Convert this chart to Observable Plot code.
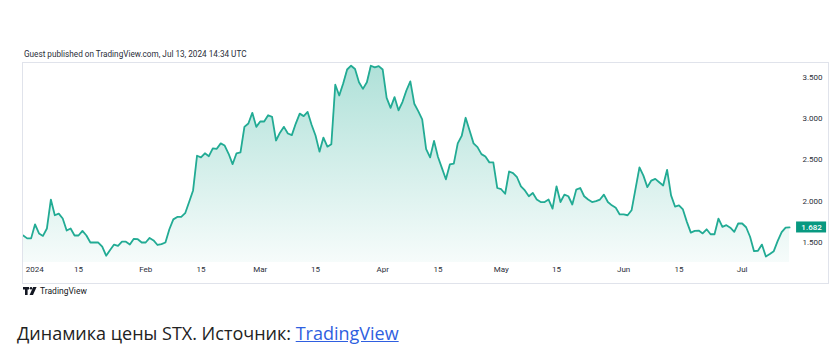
<!DOCTYPE html>
<html>
<head>
<meta charset="utf-8">
<script src="https://cdn.jsdelivr.net/npm/d3@7"></script>
<script src="https://cdn.jsdelivr.net/npm/@observablehq/plot@0.6"></script>
<style>
  html, body { margin:0; padding:0; background:#fff; }
  body { width:831px; height:354px; position:relative; overflow:hidden; }
  #hdr { position:absolute; left:24px; top:49px; font:8.2px Roboto, "Liberation Sans", sans-serif; color:#2a2e39; white-space:nowrap; }
  #chart { position:absolute; left:22px; top:62px; }
  #box { position:absolute; left:22px; top:62px; width:807px; height:222px; border:1px solid #e0e3eb; box-sizing:border-box; pointer-events:none; }
  #logo { position:absolute; left:23px; top:286px; height:10px; display:flex; align-items:center; font:8.5px Roboto, "Liberation Sans", sans-serif; color:#131722; white-space:nowrap; }
  #logo svg { margin-right:3px; }
  #cap { position:absolute; left:17px; top:321px; font:18px "Open Sans", sans-serif; color:#222; white-space:nowrap; }
  #cap a { color:#2f5fe0; text-decoration:underline; }
</style>
</head>
<body>
<div id="hdr">Guest published on TradingView.com, Jul 13, 2024 14:34 UTC</div>
<div id="chart"></div>
<div id="box"></div>
<div id="logo"><svg width="14" height="8" viewBox="0 0 14 8"><path d="M0 0H6V2.6H4.6V8H2V2.6H0Z" fill="#131722"/><circle cx="8" cy="1.3" r="1.3" fill="#131722"/><path d="M10.2 0H13.6L10 8H6.6Z" fill="#131722"/></svg>TradingView</div>
<div id="cap">Динамика цены STX. Источник: <a href="#">TradingView</a></div>
<script>
// STX daily close, 2024-01-01 .. 2024-07-13
const startDay = "2024-01-01";
const prices = [
  1.585,1.55,1.55,1.72,1.61,1.58,1.67,2.02,1.83,1.85,
  1.79,1.645,1.67,1.585,1.585,1.64,1.585,1.50,1.50,1.50,
  1.45,1.34,1.41,1.475,1.46,1.51,1.51,1.475,1.545,1.54,
  1.50,1.50,1.556,1.525,1.47,1.48,1.50,1.66,1.78,1.81,
  1.81,1.855,1.99,2.13,2.55,2.53,2.58,2.545,2.64,2.634,
  2.70,2.674,2.574,2.448,2.58,2.59,2.90,2.94,3.07,2.90,
  2.965,2.965,3.04,3.02,2.735,2.83,2.90,2.82,2.80,2.94,
  3.06,3.03,3.08,2.925,2.795,2.60,2.77,2.66,2.69,3.41,
  3.28,3.425,3.594,3.64,3.60,3.44,3.36,3.44,3.64,3.62,
  3.635,3.594,3.25,3.13,3.26,3.10,3.20,3.34,3.45,3.18,
  3.09,2.99,2.63,2.53,2.73,2.535,2.40,2.265,2.445,2.455,
  2.70,2.79,3.01,2.855,2.70,2.655,2.57,2.54,2.47,2.47,
  2.16,2.145,2.09,2.36,2.34,2.29,2.18,2.13,2.06,2.10,
  2.02,1.99,1.99,2.02,1.91,2.18,1.99,2.08,2.06,1.96,
  2.14,2.16,2.06,2.02,1.99,2.00,2.02,2.08,1.99,1.95,
  1.92,1.84,1.84,1.83,1.89,2.15,2.41,2.31,2.17,2.25,
  2.27,2.23,2.19,2.38,2.07,1.935,1.95,1.90,1.75,1.62,
  1.64,1.645,1.61,1.66,1.60,1.60,1.79,1.69,1.71,1.68,
  1.63,1.73,1.73,1.685,1.57,1.395,1.40,1.475,1.33,1.36,
  1.395,1.52,1.625,1.68,1.682
];
const yTicks = [1.5, 2.0, 2.5, 3.0, 3.5];
const xTickDates = ["2024-01-01","2024-01-15","2024-02-01","2024-02-15","2024-03-01","2024-03-15","2024-04-01","2024-04-15","2024-05-01","2024-05-15","2024-06-01","2024-06-15","2024-07-01"];
const xTickLabels = ["2024","15","Feb","15","Mar","15","Apr","15","May","15","Jun","15","Jul"];

const DAY = 864e5;
const t0 = new Date(startDay + "T00:00:00Z").getTime();
const data = prices.map((v, i) => ({date: new Date(t0 + i * DAY), v}));
const last = data[data.length - 1];
const ticks = xTickDates.map((d, i) => ({date: new Date(d + "T00:00:00Z"), label: xTickLabels[i]}));
const fmt = d3.format(".3f");

const xDomain = [new Date(t0 - 0.18 * DAY), new Date(t0 + 195.5 * DAY)];
const yDomain = [1.258, 3.679];
const lineColor = "#22ab94";

const gradientDefs = () => {
  const ns = "http://www.w3.org/2000/svg";
  const defs = document.createElementNS(ns, "defs");
  defs.innerHTML = `<linearGradient id="areaGrad" x1="0" y1="0" x2="0" y2="1">
    <stop offset="0" stop-color="${lineColor}" stop-opacity="0.36"/>
    <stop offset="1" stop-color="${lineColor}" stop-opacity="0.04"/>
  </linearGradient>`;
  return defs;
};

const chart = Plot.plot({
  width: 807,
  height: 222,
  marginLeft: 0,
  marginRight: 34,
  marginTop: 0,
  marginBottom: 22,
  style: {fontFamily: "Roboto, 'Liberation Sans', sans-serif", fontSize: "8px", color: "#2a2e39", background: "transparent"},
  x: {type: "utc", domain: xDomain, axis: null},
  y: {domain: yDomain, axis: null},
  marks: [
    gradientDefs,
    Plot.areaY(data, {x: "date", y1: yDomain[0], y2: "v", fill: "url(#areaGrad)", curve: "linear"}),
    Plot.lineY(data, {x: "date", y: "v", stroke: lineColor, strokeWidth: 1.8, curve: "linear"}),
    Plot.axisY(yTicks, {anchor: "right", tickSize: 0, tickPadding: 7, tickFormat: fmt, label: null, fill: "#2a2e39"}),
    Plot.text(ticks.slice(0, 1), {x: "date", text: "label", frameAnchor: "bottom", dy: 9, dx: 2.5, textAnchor: "start", fill: "#2a2e39"}),
    Plot.text(ticks.slice(1), {x: "date", text: "label", frameAnchor: "bottom", dy: 9, textAnchor: "middle", fill: "#2a2e39"}),
    Plot.rect([last], {x1: "date", x2: "date", y1: "v", y2: "v", insetLeft: 7, insetRight: -37, insetTop: -5.5, insetBottom: -5.5, fill: "#089981"}),
    Plot.text([last], {x: "date", y: "v", text: d => fmt(d.v), dx: 22, fill: "white", fontWeight: 500, textAnchor: "middle"})
  ]
});
document.getElementById("chart").appendChild(chart);
</script>
</body>
</html>
